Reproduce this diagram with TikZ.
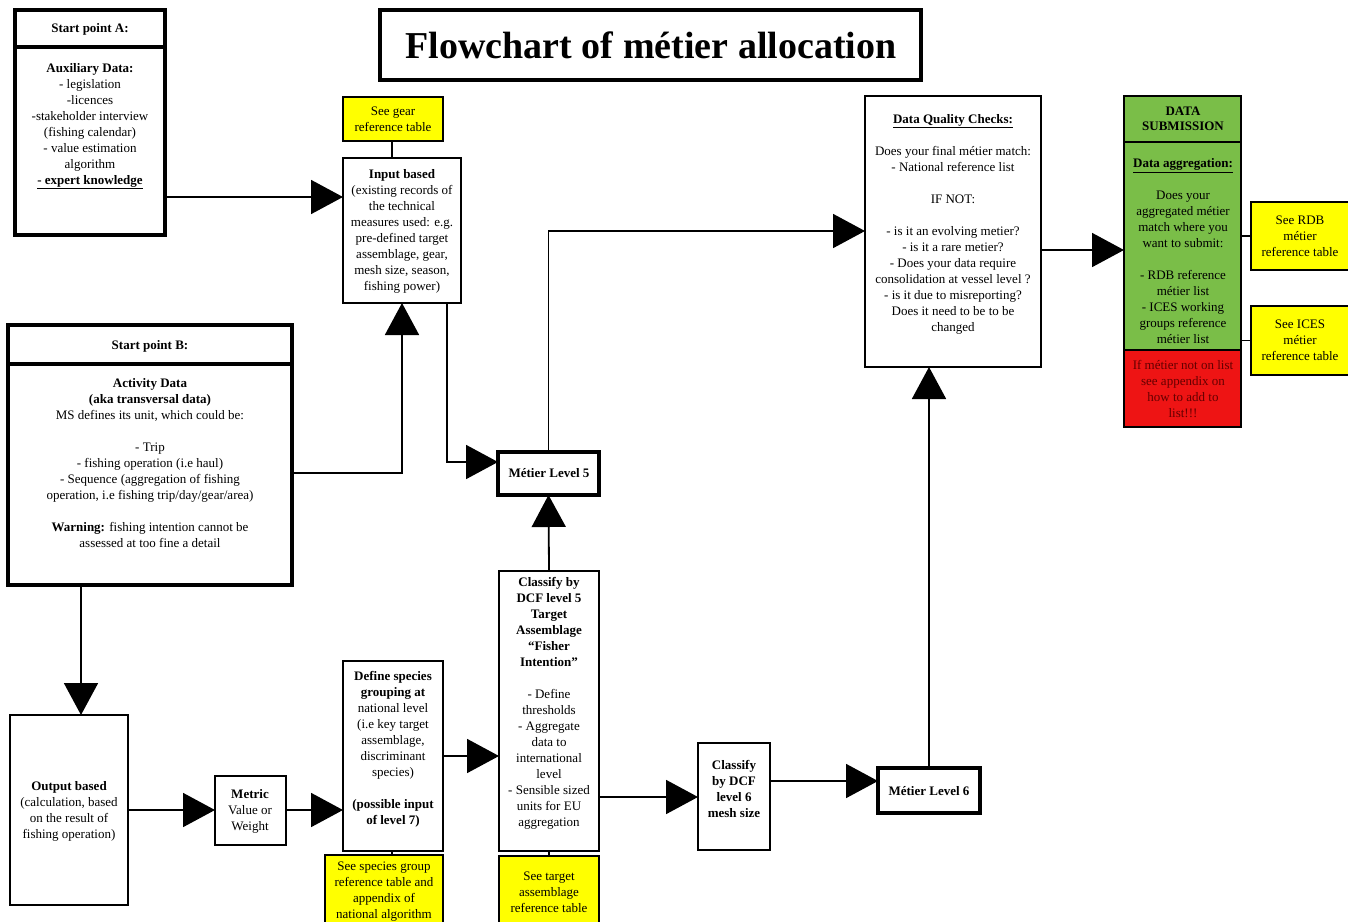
\documentclass[tikz,border=0pt]{standalone}
\usepackage{fontspec}
\setmainfont{Liberation Serif}
\usetikzlibrary{arrows.meta}
\definecolor{yel}{RGB}{255,255,0}
\definecolor{grn}{RGB}{122,190,72}
\definecolor{rd}{RGB}{238,20,20}
\definecolor{drd}{RGB}{100,0,0}
\newcommand\mkbox[6]{\node[#6, minimum width={(#4)-(#2)}, minimum height={(#5)-(#3)}] (#1) at ({((#2)+(#4))/2},{((#3)+(#5))/2}) {};}
\begin{document}
\begin{tikzpicture}[x=1pt,y=-1pt,
  box/.style={draw, line width=1.8pt, rectangle, inner sep=0pt, outer sep=0pt},
  thickbox/.style={box, line width=4pt},
  txt/.style={align=center, inner sep=0pt, font=\fontsize{13}{16}\selectfont},
  btxt/.style={txt, font=\fontsize{13}{16}\selectfont\bfseries},
  arr/.style={line width=1.8pt, -{Triangle[length=32pt,width=34pt]}},
  ln/.style={line width=1.8pt}]
\useasboundingbox (0,0) rectangle (1348,921);
\clip (0,0) rectangle (1348,921);
\fill[white] (0,0) rectangle (1348,921);

% title
\mkbox{title}{380}{10}{921}{80}{thickbox}
\node[txt, font=\fontsize{38}{42}\selectfont\bfseries] (titletxt) at (651,45) {Flowchart of métier allocation};

% start A
\mkbox{aH}{15}{10}{165}{47}{thickbox}
\mkbox{aB}{15}{47}{165}{235}{thickbox}
\node[btxt] (aHt) at (90,29) {Start point A:};
\node[txt] (aBt) at (90,126) {\textbf{Auxiliary Data:}\\- legislation\\-licences\\-stakeholder interview\\(fishing calendar)\\- value estimation\\algorithm\\\textbf{\underline{- expert knowledge}}};

% gear + input
\mkbox{gear}{343}{97}{443}{141}{box, fill=yel}
\node[txt] (geart) at (393,119) {See gear\\reference table};
\mkbox{inp}{343}{158}{461}{303}{box}
\node[txt] (inpt) at (402,231) {\textbf{Input based}\\(existing records of\\the technical\\measures used: e.g.\\pre-defined target\\assemblage, gear,\\mesh size,  season,\\fishing power)};

% start B
\mkbox{bH}{8}{325}{292}{364}{thickbox}
\mkbox{bB}{8}{364}{292}{585}{thickbox}
\node[btxt] (bHt) at (150,346) {Start point B:};
\node[txt] (bBt) at (150,463) {\textbf{Activity Data}\\\textbf{(aka transversal data)}\\MS defines its unit, which could be:\\[16pt]- Trip\\- fishing operation (i.e haul)\\- Sequence (aggregation of fishing\\operation, i.e fishing trip/day/gear/area)\\[16pt]\textbf{Warning:} fishing intention cannot be\\assessed at too fine a detail};

% metier 5
\mkbox{m5}{498}{452}{599}{495}{thickbox}
\node[btxt] (m5t) at (549,473) {Métier Level 5};

% data quality checks
\mkbox{dqc}{865}{96}{1041}{367}{box}
\node[txt] (dqct) at (953,224) {\textbf{\underline{Data Quality Checks:}}\\[16pt]Does your final métier match:\\- National reference list\\[16pt]IF NOT:\\[16pt]- is it an evolving metier?\\- is it a rare metier?\\- Does your data require\\consolidation at vessel level ?\\- is it due to misreporting?\\Does it need to be to be\\changed};

% data submission
\mkbox{dsh}{1124}{96}{1241}{142}{box, fill=grn}
\node[txt, font=\fontsize{13}{15}\selectfont\bfseries] (dsht) at (1183,119) {DATA\\SUBMISSION};
\mkbox{dsb}{1124}{142}{1241}{350}{box, fill=grn}
\node[txt] (dsbt) at (1183,251) {\textbf{\underline{Data aggregation:}}\\[16pt]Does your\\aggregated métier\\match where you\\want to submit:\\[16pt]- RDB reference\\métier list\\- ICES working\\groups reference\\métier list};
\mkbox{dsr}{1124}{350}{1241}{427}{box, fill=rd}
\node[txt, text=drd] (dsrt) at (1183,389) {If métier not on list\\see appendix on\\how to add to\\list!!!};

\mkbox{rdb}{1251}{202}{1352}{270}{box, fill=yel}
\node[txt] (rdbt) at (1300,236) {See RDB\\métier\\reference table};
\mkbox{ices}{1251}{306}{1352}{375}{box, fill=yel}
\node[txt] (icest) at (1300,340) {See ICES\\métier\\reference table};

% output based, metric
\mkbox{out}{10}{715}{128}{905}{box}
\node[txt] (outt) at (69,811) {\textbf{Output based}\\(calculation, based\\on the result of\\fishing operation)};
\mkbox{met}{215}{776}{286}{845}{box}
\node[txt] (mett) at (250,811) {\textbf{Metric}\\Value or\\Weight};

% define species
\mkbox{def}{343}{661}{443}{851}{box}
\node[txt] (deft) at (393,749) {\textbf{Define species}\\\textbf{grouping at}\\national level\\(i.e key target\\assemblage,\\discriminant\\species)\\[16pt]\textbf{(possible input}\\\textbf{of level 7)}};
\mkbox{spg}{325}{855}{443}{930}{box, fill=yel}
\node[txt] (spgt) at (384,892) {See species group\\reference table and\\appendix of\\national algorithm};

% classify 5
\mkbox{c5}{499}{571}{599}{851}{box}
\node[txt] (c5t) at (549,703) {\textbf{Classify by}\\\textbf{DCF level 5}\\\textbf{Target}\\\textbf{Assemblage}\\\textbf{``Fisher}\\\textbf{Intention''}\\[16pt]- Define\\thresholds\\- Aggregate\\data to\\international\\level\\- Sensible sized\\units for EU\\aggregation};
\mkbox{tgt}{499}{856}{599}{930}{box, fill=yel}
\node[txt] (tgtt) at (549,892) {See target\\assemblage\\reference table};

% classify 6, metier 6
\mkbox{c6}{698}{743}{770}{850}{box}
\node[btxt] (c6t) at (734,789) {Classify\\by DCF\\level 6\\mesh size};
\mkbox{m6}{878}{768}{980}{813}{thickbox}
\node[btxt] (m6t) at (929,791) {Métier Level 6};

% connectors
\draw[arr] (aB.east |- 0,197) -- (inp.west |- 0,197);
\draw[arr] (bB.east |- 0,473) -| (inp.south -| 402,0);
\draw[arr] (inp.south -| 447,0) |- (m5.west |- 0,462);
\draw[arr] (c5.north) -- (m5.south);
\draw[arr] (m5.north) |- (dqc.west |- 0,231);
\draw[arr] (bB.south -| 81,0) -- (out.north -| 81,0);
\draw[arr] (out.east |- 0,810) -- (met.west |- 0,810);
\draw[arr] (met.east |- 0,810) -- (def.west |- 0,810);
\draw[arr] (def.east |- 0,756) -- (c5.west |- 0,756);
\draw[arr] (c5.east |- 0,797) -- (c6.west |- 0,797);
\draw[arr] (c6.east |- 0,781) -- (m6.west |- 0,781);
\draw[arr] (m6.north -| 929,0) -- (dqc.south -| 929,0);
\draw[arr] (dqc.east |- 0,250) -- (dsb.west |- 0,250);
\draw[ln] (dsb.east |- rdb.west) -- (rdb.west);
\draw[ln] (dsb.east |- ices.west) -- (ices.west);
\draw[ln] (gear.south -| 392,0) -- (inp.north -| 392,0);
\draw[ln] (def.south -| 392,0) -- (spg.north -| 392,0);
\draw[ln] (c5.south) -- (tgt.north);
\end{tikzpicture}
\end{document}
